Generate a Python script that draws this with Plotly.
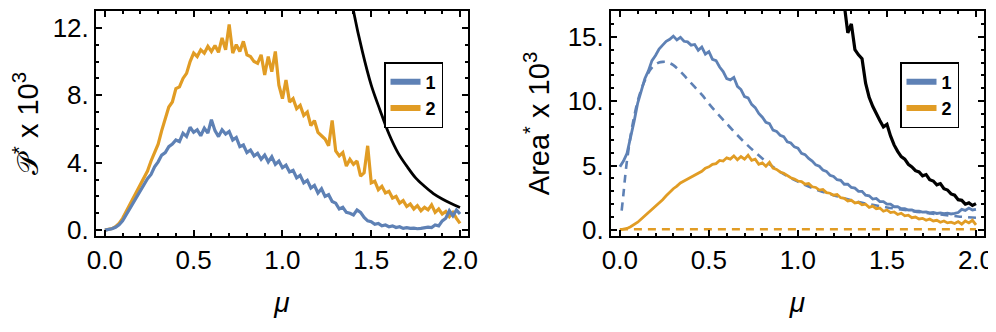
import numpy as np
import plotly.graph_objects as go
from plotly.subplots import make_subplots

BLUE = "#5E81B5"
ORANGE = "#E19C24"

# mu grid for the simulated curves
MU = np.round(np.linspace(0.0, 2.0, 101), 2)

# left panel: P* x 10^3
P_1 = [0.00, 0.03, 0.08, 0.17, 0.32, 0.55, 0.90, 1.30, 1.65, 2.02,
       2.35, 2.70, 3.05, 3.30, 3.75, 4.05, 4.45, 4.60, 4.95, 5.10,
       5.35, 5.25, 5.75, 5.55, 6.10, 5.80, 5.95, 5.60, 6.05, 5.75,
       6.55, 5.90, 5.55, 5.95, 5.70, 5.85, 5.35, 5.50, 4.95, 5.05,
       4.60, 4.75, 4.40, 4.55, 4.20, 4.45, 4.05, 4.35, 3.90, 4.10,
       3.70, 3.85, 3.45, 3.55, 3.10, 3.25, 2.80, 2.95, 2.50, 2.65,
       2.20, 2.45, 2.00, 2.10, 1.70, 1.60, 1.25, 1.35, 1.05, 1.00,
       0.90, 1.20, 1.05, 0.75, 0.55, 0.50, 0.35, 0.40, 0.25, 0.30,
       0.20, 0.25, 0.15, 0.20, 0.10, 0.15, 0.10, 0.12, 0.08, 0.10,
       0.12, 0.18, 0.15, 0.30, 0.25, 0.55, 0.70, 1.15, 0.85, 1.20,
       0.95]
P_2 = [0.00, 0.03, 0.09, 0.20, 0.40, 0.70, 1.10, 1.50, 1.90, 2.30,
       2.65, 3.00, 3.50, 4.10, 4.60, 5.10, 5.90, 6.60, 7.30, 7.60,
       8.40, 8.50, 9.00, 9.30, 10.00, 10.50, 10.30, 10.70, 10.50, 10.90,
       10.60, 10.95, 10.55, 11.40, 10.70, 12.20, 10.50, 11.00, 10.60, 11.20,
       10.40, 10.30, 10.00, 9.90, 10.40, 9.20, 10.30, 9.40, 10.60, 8.60,
       7.80, 8.90, 7.60, 7.80, 7.20, 7.40, 6.80, 7.00, 6.20, 6.50,
       5.80, 5.60, 5.40, 5.00, 6.50, 4.70, 4.40, 4.60, 3.80, 4.20,
       3.90, 4.10, 3.20, 3.40, 5.00, 2.80, 2.90, 2.40, 2.60, 2.20,
       2.30, 1.90, 2.00, 1.60, 1.75, 1.40, 1.55, 1.25, 1.45, 1.15,
       1.35, 1.20, 1.50, 1.05, 1.25, 0.95, 1.10, 0.80, 1.05, 0.70,
       0.40]
P_BOUND_MU = [1.39, 1.40, 1.45, 1.50, 1.55, 1.60, 1.65, 1.70, 1.75, 1.80, 1.85, 1.90, 1.95, 2.00]
P_BOUND = [13.6, 13.0, 10.6, 8.6, 7.1, 5.7, 4.6, 3.8, 3.1, 2.6, 2.17, 1.85, 1.58, 1.34]

# right panel: Area* x 10^3
A_1 = [4.90, 5.35, 5.95, 7.15, 8.45, 9.85, 10.85, 11.75, 12.35, 13.15,
       13.55, 14.05, 14.35, 14.65, 14.80, 15.05, 14.75, 14.95, 14.65, 14.60,
       14.35, 14.40, 13.95, 14.20, 13.65, 13.85, 13.25, 13.15, 12.65, 12.30,
       11.75, 11.65, 11.85, 11.15, 10.90, 10.35, 10.25, 9.75, 9.50, 9.05,
       8.75, 8.35, 8.25, 7.75, 7.65, 7.35, 7.25, 6.85, 6.75, 6.45,
       6.35, 5.95, 5.85, 5.55, 5.35, 5.05, 4.95, 4.65, 4.55, 4.25,
       4.15, 3.90, 3.85, 3.55, 3.55, 3.30, 3.25, 3.00, 3.00, 2.70,
       2.65, 2.40, 2.45, 2.20, 2.20, 2.00, 2.00, 1.80, 1.80, 1.65,
       1.65, 1.55, 1.55, 1.45, 1.45, 1.38, 1.40, 1.32, 1.36, 1.28,
       1.32, 1.26, 1.30, 1.24, 1.28, 1.35, 1.60, 1.52, 1.70, 1.55,
       1.60]
A_2 = [0.00, 0.05, 0.12, 0.25, 0.40, 0.60, 0.85, 1.10, 1.30, 1.55,
       1.80, 2.05, 2.35, 2.65, 2.95, 3.20, 3.40, 3.65, 3.80, 3.95,
       4.10, 4.25, 4.45, 4.55, 4.80, 4.90, 5.10, 5.15, 5.40, 5.35,
       5.60, 5.50, 5.75, 5.45, 5.70, 5.50, 5.80, 5.40, 5.50, 5.10,
       5.20, 4.95, 5.25, 4.80, 4.70, 4.50, 4.40, 4.20, 4.05, 3.95,
       3.80, 3.75, 3.55, 3.60, 3.35, 3.30, 3.10, 3.15, 2.90, 2.85,
       2.70, 2.75, 2.50, 2.45, 2.25, 2.30, 2.10, 2.15, 1.95, 2.00,
       1.75, 1.85, 1.65, 1.70, 1.45, 1.55, 1.35, 1.40, 1.20, 1.30,
       1.10, 1.15, 0.95, 1.00, 0.85, 0.90, 0.75, 0.85, 0.70, 0.75,
       0.60, 0.70, 0.55, 0.60, 0.50, 0.65, 0.45, 0.70, 0.55, 0.75,
       0.40]
A_1_THEORY_MU = [0.01, 0.02, 0.03, 0.04, 0.06, 0.08, 0.10, 0.12, 0.14, 0.16, 0.18, 0.20,
                 0.22, 0.24, 0.26, 0.28, 0.30, 0.34, 0.38, 0.42, 0.46, 0.50, 0.55, 0.60,
                 0.65, 0.70, 0.75, 0.80, 0.85, 0.90, 0.95, 1.00, 1.10, 1.20, 1.30, 1.40,
                 1.50, 1.60, 1.70, 1.80, 1.90, 2.00]
A_1_THEORY = [1.5, 2.8, 4.2, 5.4, 7.3, 8.8, 10.0, 10.9, 11.6, 12.2, 12.6, 12.85,
              13.0, 13.05, 13.05, 12.95, 12.8, 12.3, 11.7, 11.1, 10.5, 9.8, 9.0, 8.25,
              7.5, 6.8, 6.15, 5.55, 5.0, 4.5, 4.1, 3.75, 3.15, 2.7, 2.3, 2.0,
              1.75, 1.55, 1.35, 1.2, 1.05, 0.95]
A_2_THEORY_MU = [0.0, 2.0]
A_2_THEORY = [0.05, 0.05]
A_BOUND_MU = np.round(np.linspace(1.26, 2.0, 38), 2)
A_BOUND = [17.5, 15.3, 16.0, 14.0, 13.6, 13.3, 11.4, 10.3, 9.6, 9.0,
           8.5, 8.0, 8.2, 7.3, 6.6, 6.1, 5.7, 5.5, 5.1, 4.9,
           4.6, 4.5, 4.2, 4.3, 3.9, 3.8, 3.5, 3.6, 3.2, 3.1,
           2.8, 2.7, 2.35, 2.3, 2.0, 2.1, 1.9, 2.05]

FONT = "Liberation Sans, Arial, sans-serif"

fig = make_subplots(rows=1, cols=2)

# left panel
fig.add_trace(go.Scatter(x=P_BOUND_MU, y=P_BOUND, mode="lines", line=dict(color="black", width=2.8, shape="spline"),
                         showlegend=False), row=1, col=1)
fig.add_trace(go.Scatter(x=MU, y=P_2, mode="lines", line=dict(color=ORANGE, width=3.2), showlegend=False), row=1, col=1)
fig.add_trace(go.Scatter(x=MU, y=P_1, mode="lines", line=dict(color=BLUE, width=3.2), showlegend=False), row=1, col=1)

# right panel
fig.add_trace(go.Scatter(x=A_BOUND_MU, y=A_BOUND, mode="lines", line=dict(color="black", width=3.2),
                         showlegend=False), row=1, col=2)
fig.add_trace(go.Scatter(x=A_2_THEORY_MU, y=A_2_THEORY, mode="lines", line=dict(color=ORANGE, width=2.6, dash="8px,6px"),
                         showlegend=False), row=1, col=2)
fig.add_trace(go.Scatter(x=A_1_THEORY_MU, y=A_1_THEORY, mode="lines",
                         line=dict(color=BLUE, width=2.6, dash="8px,6px", shape="spline"), showlegend=False), row=1, col=2)
fig.add_trace(go.Scatter(x=MU, y=A_2, mode="lines", line=dict(color=ORANGE, width=2.8), showlegend=False), row=1, col=2)
fig.add_trace(go.Scatter(x=MU, y=A_1, mode="lines", line=dict(color=BLUE, width=2.8), showlegend=False), row=1, col=2)

# legend entries (one legend per panel)
for leg, (r, c) in (("legend", (1, 1)), ("legend2", (1, 2))):
    fig.add_trace(go.Scatter(x=[None], y=[None], mode="lines", line=dict(color=BLUE, width=6),
                             name="<b>1</b>", legend=leg), row=r, col=c)
    fig.add_trace(go.Scatter(x=[None], y=[None], mode="lines", line=dict(color=ORANGE, width=6),
                             name="<b>2</b>", legend=leg), row=r, col=c)

# the page body keeps its default 8px margin, so the figure is 8px smaller
W, H = 988, 324
ML, MR, MT, MB = 88, 12, 3, 96
PW = W - ML - MR
PH = H - MT - MB

axis_common = dict(
    showline=True, linecolor="black", linewidth=2, mirror="allticks",
    ticks="inside", ticklen=6, tickwidth=1.5, tickcolor="black",
    showgrid=False, zeroline=False, automargin=False, ticklabeloverflow="allow",
    tickfont=dict(family=FONT, size=26, color="black"),
)

xtick = dict(tickvals=[0, 0.5, 1.0, 1.5, 2.0], ticktext=["0.0", "0.5", "1.0", "1.5", "2.0"],
             minor=dict(ticks="inside", ticklen=3, tickcolor="black", dtick=0.1, tick0=0),
             title=dict(text="<i>μ</i>", font=dict(family=FONT, size=28, color="black"), standoff=18))

fig.update_xaxes(**axis_common, **xtick, range=[-0.05, 2.045])
fig.update_layout(
    xaxis=dict(domain=[0, 372 / PW]),
    xaxis2=dict(domain=[515 / PW, 1.0]),
    yaxis=dict(**axis_common, range=[-0.35, 13],
               tickvals=[0, 4, 8, 12], ticktext=["0.", "4.", "8.", "12."],
               minor=dict(ticks="inside", ticklen=3, tickcolor="black", dtick=1, tick0=0),
               title=dict(text="𝒫<sup>*</sup> x 10<sup>3</sup>", font=dict(family=FONT, size=29, color="black"),
                          standoff=17)),
    yaxis2=dict(**axis_common, range=[-0.47, 17],
                tickvals=[0, 5, 10, 15], ticktext=["0.", "5.", "10.", "15."],
                minor=dict(ticks="inside", ticklen=3, tickcolor="black", dtick=1, tick0=0),
                title=dict(text="Area<sup>*</sup> x 10<sup>3</sup>", font=dict(family=FONT, size=29, color="black"),
                           standoff=9)),
    legend=dict(x=288 / PW, y=1 - 51 / PH, xanchor="left", yanchor="top",
                bordercolor="black", borderwidth=1.5, bgcolor="white", itemwidth=30,
                font=dict(family=FONT, size=18, color="black"), tracegroupgap=0),
    legend2=dict(x=804 / PW, y=1 - 51 / PH, xanchor="left", yanchor="top",
                 bordercolor="black", borderwidth=1.5, bgcolor="white", itemwidth=30,
                 font=dict(family=FONT, size=18, color="black"), tracegroupgap=0),
    width=W, height=H,
    margin=dict(l=ML, r=MR, t=MT, b=MB),
    plot_bgcolor="white", paper_bgcolor="white",
)

fig.write_html("out.html")
